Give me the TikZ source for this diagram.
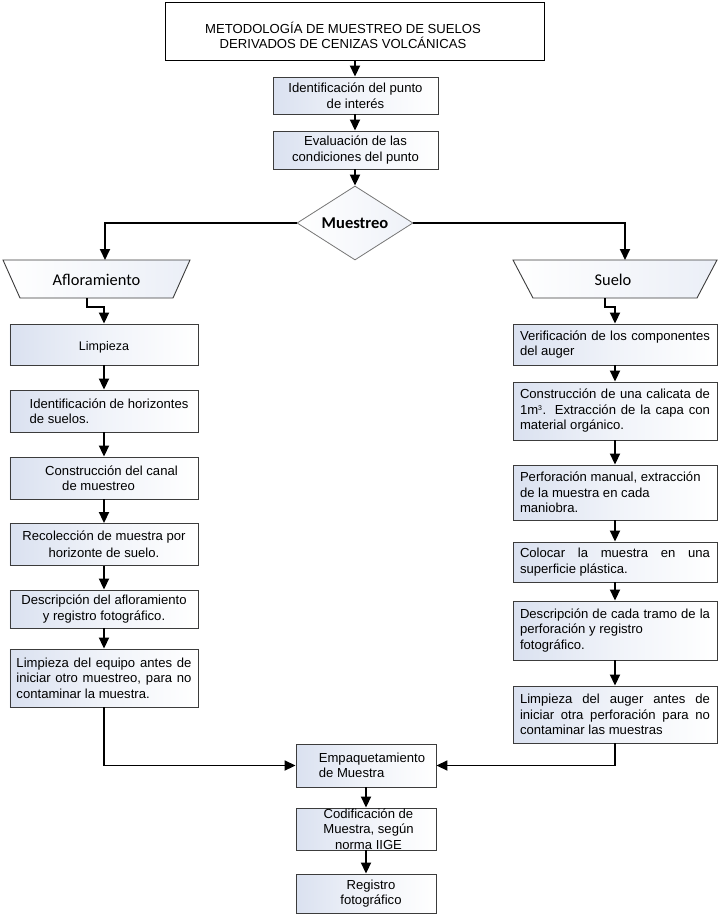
\documentclass[tikz,border=0pt]{standalone}
\usepackage{fontspec}
\setmainfont{Liberation Sans}
\newfontfamily\calibfont{Carlito}
\usetikzlibrary{shapes.geometric,arrows.meta,calc}
\definecolor{boxblue}{RGB}{218,225,240}
\definecolor{edge}{RGB}{60,60,60}
\newcommand{\jl}[2]{\makebox[#1bp][s]{#2}}
\begin{document}
\begin{tikzpicture}[x=1bp,y=-1bp,
  every node/.style={font=\fontsize{13.1bp}{15.5bp}\selectfont, inner sep=0pt},
  stepbox/.style={draw=edge, line width=0.9bp, left color=boxblue, right color=white, middle color=white!60!boxblue, align=left},
  cbox/.style={stepbox, align=center},
  titlebox/.style={draw=black, line width=1bp, fill=white, align=center},
  trap/.style={draw=edge, line width=0.9bp, left color=white, right color=boxblue!55},
  arr/.style={-{Triangle[length=11bp,width=10bp]}, line width=1.8bp, black},
  ln/.style={line width=1.8bp, black}]
\useasboundingbox[fill=white] (0,0) rectangle (720,916);

% top
\node[titlebox, minimum width=378bp, minimum height=58bp] (title) at (355,31)
  {\rule{0pt}{20bp}METODOLOGÍA DE MUESTREO DE SUELOS\hspace*{24bp}\\DERIVADOS DE CENIZAS VOLCÁNICAS\hspace*{24bp}};
\node[cbox, minimum width=165bp, minimum height=37bp] (b1) at (355.5,95.5)
  {Identificación del punto\\de interés};
\node[cbox, minimum width=165bp, minimum height=38bp] (b2) at (355.5,150)
  {Evaluación de las\\condiciones del punto};
\node[diamond, aspect=1.57, draw=edge!70, line width=0.8bp, left color=white, right color=boxblue!45,
  minimum width=116bp, minimum height=74bp] (dia) at (355,223)
  {\calibfont\fontsize{16.5bp}{18bp}\selectfont\bfseries Muestreo};

% trapezoids
\draw[trap] (3,260) -- (190,260) -- (173,298) -- (20,298) -- cycle;
\node (afl) at (96.5,279.5) {\calibfont\fontsize{16.4bp}{18bp}\selectfont Afloramiento};
\draw[trap] (513,260) -- (717,260) -- (697,298) -- (533,298) -- cycle;
\node (sue) at (613,279.5) {\calibfont\fontsize{16.4bp}{18bp}\selectfont Suelo};
\coordinate (aflIn) at (105,260);
\coordinate (sueIn) at (625,260);
\coordinate (aflOut) at (87,298);
\coordinate (sueOut) at (605,298);

% left column
\node[cbox, minimum width=188bp, minimum height=41bp] (limp) at (104,344.5)
  {\fontsize{12.5bp}{15bp}\selectfont\rule{0pt}{14bp}Limpieza};
\node[stepbox, minimum width=188bp, minimum height=42bp] (idh) at (104,411)
  {\hspace*{10bp}Identificación de horizontes\\\hspace*{10bp}de suelos.};
\node[stepbox, minimum width=188bp, minimum height=42bp] (can) at (104,478)
  {\hspace*{15bp}Construcción del canal\\\hspace*{32bp}de muestreo};
\node[cbox, minimum width=188bp, minimum height=42bp] (rec) at (104,544.5)
  {Recolección de muestra por\\[1.5bp]horizonte de suelo.};
\node[cbox, minimum width=188bp, minimum height=38bp] (desa) at (104,609)
  {Descripción del afloramiento\\y registro fotográfico.};
\node[stepbox, minimum width=188bp, minimum height=58bp] (lime) at (104,678)
  {\jl{175}{Limpieza del equipo antes de}\\\jl{175}{iniciar otro muestreo, para no}\\contaminar la muestra.};

% right column
\node[stepbox, minimum width=204bp, minimum height=41bp] (ver) at (615,344.5)
  {\jl{190}{Verificación de los componentes}\\del auger};
\node[stepbox, minimum width=204bp, minimum height=58bp] (cal) at (615,411)
  {\jl{190}{Construcción de una calicata de}\\\jl{190}{1m\textsuperscript{\scriptsize 3}. Extracción de la capa con}\\material orgánico.};
\node[stepbox, minimum width=204bp, minimum height=55bp] (per) at (615,492.5)
  {\makebox[190bp][l]{Perforación manual, extracción}\\de la muestra en cada\\maniobra.};
\node[stepbox, minimum width=204bp, minimum height=40bp] (col) at (615,562)
  {\jl{190}{Colocar la muestra en una}\\superficie plástica.};
\node[stepbox, minimum width=204bp, minimum height=59bp] (dess) at (615,630.5)
  {\jl{190}{Descripción de cada tramo de la}\\perforación y registro\\fotográfico.};
\node[stepbox, minimum width=204bp, minimum height=57bp] (lima) at (615,714.5)
  {\jl{190}{Limpieza del auger antes de}\\\jl{190}{iniciar otra perforación para no}\\contaminar las muestras};

% bottom
\node[stepbox, minimum width=140bp, minimum height=43bp] (emp) at (366,765.5)
  {\hspace*{12bp}Empaquetamiento\\\hspace*{12bp}de Muestra};
\node[cbox, minimum width=140bp, minimum height=42bp] (cod) at (366,829)
  {\hspace*{5bp}Codificación de\\\hspace*{5bp}Muestra, según\\\hspace*{5bp}norma IIGE};
\node[cbox, minimum width=140bp, minimum height=39bp] (reg) at (366,893.5)
  {\hspace*{10bp}Registro\\\hspace*{10bp}fotográfico};

% connectors
\draw[arr] (title.south) -- (title.south |- b1.north);
\draw[arr] (b1.south -| title.south) -- (title.south |- b2.north);
\draw[arr] (b2.south -| title.south) -- (dia.north);
\draw[arr] (dia.west) -| (aflIn);
\draw[arr] (dia.east) -| (sueIn);
\draw[arr] (aflOut) -- ++(0,9) -| (limp.north);
\draw[arr] (sueOut) -- ++(0,9) -| (ver.north);
\draw[arr] (limp) -- (idh);
\draw[arr] (idh) -- (can);
\draw[arr] (can) -- (rec);
\draw[arr] (rec) -- (desa);
\draw[arr] (desa) -- (lime);
\draw[arr] (ver) -- (cal);
\draw[arr] (cal) -- (per);
\draw[arr] (per) -- (col);
\draw[arr] (col) -- (dess);
\draw[arr] (dess) -- (lima);
\draw[arr] (lime.south) |- (emp.west);
\draw[arr] (lima.south) |- (emp.east);
\draw[arr] (emp) -- (cod);
\draw[arr] (cod) -- (reg);
\end{tikzpicture}
\end{document}
